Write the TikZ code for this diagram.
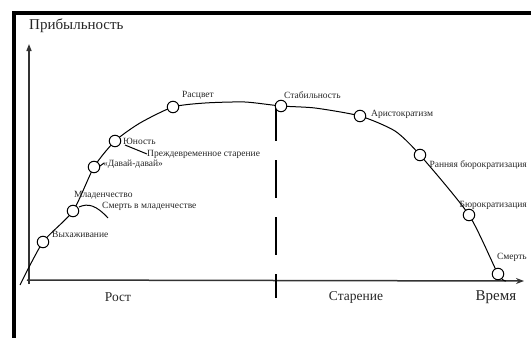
\documentclass[tikz,border=0pt]{standalone}
\usepackage{fontspec}
\setmainfont{Liberation Serif}
\usetikzlibrary{arrows.meta}
\tikzset{
  pt/.style={circle,draw=black,fill=white,line width=1pt,minimum size=11.5pt,inner sep=0pt},
  lbl/.style={font=\fontsize{9.5}{10}\selectfont,inner sep=0pt,text=black!85},
  big/.style={font=\fontsize{13.5}{14}\selectfont,inner sep=0pt,text=black!85},
  curve/.style={line width=1pt},
  axis/.style={line width=1.5pt,black!80},
  frameline/.style={line width=4pt,black}
}
\begin{document}
\begin{tikzpicture}[x=1pt,y=-1pt]
\useasboundingbox (0,0) rectangle (531,338);
% frame (top and left)
\draw[frameline] (12,13) -- (531,13);
\draw[frameline] (13.5,11) -- (13.5,338);
% axes
\coordinate (o) at (29,284);
\coordinate (ytip) at (29,44);
\coordinate (xo) at (27,280);
\coordinate (xtip) at (524,281);
\draw[axis,-{Triangle[length=7pt,width=5pt]}] (o) -- (ytip);
\draw[axis,-{Stealth[length=8pt,width=6pt]}] (xo) -- (xtip);
% divider
\coordinate (dtop) at (276,103);
\coordinate (dbot) at (276,298);
\draw[line width=1.1pt,dash pattern=on 38pt off 19pt] (dtop) -- (dbot);
% curve points
\coordinate (s) at (20,285);
\coordinate (c1) at (43,242);
\coordinate (c2) at (73,211);
\coordinate (c3) at (94,167);
\coordinate (c4) at (115,141);
\coordinate (m1) at (140,123);
\coordinate (c5) at (173,107);
\coordinate (m2) at (205,103);
\coordinate (m3) at (245,102);
\coordinate (c6) at (281,106);
\coordinate (m4) at (315,108);
\coordinate (c7) at (360,116);
\coordinate (m5) at (395,131);
\coordinate (c8) at (420,155);
\coordinate (c9) at (469,215);
\coordinate (c10) at (498,274);
\coordinate (e) at (506,281);
\draw[curve] plot[smooth,tension=0.4] coordinates {(s) (c1) (c2) (c3) (c4) (m1) (c5) (m2) (m3) (c6) (m4) (c7) (m5) (c8) (c9) (c10) (e)};
% side connectors
\coordinate (w0) at (79,207);
\coordinate (w1) at (88,203);
\coordinate (w2) at (108,218);
\draw[curve] (w0) .. controls (w1) and (96,205) .. (w2);
\coordinate (d1) at (100,166);
\coordinate (d2) at (104,163);
\draw[curve] (d1) -- (d2);
\coordinate (y1) at (125,145);
\coordinate (y2) at (147,154);
\draw[curve] (y1) -- (y2);
% circles
\node[pt] (n1) at (c1) {};
\node[pt] (n2) at (c2) {};
\node[pt] (n3) at (c3) {};
\node[pt] (n4) at (c4) {};
\node[pt] (n5) at (c5) {};
\node[pt] (n6) at (c6) {};
\node[pt] (n7) at (c7) {};
\node[pt] (n8) at (c8) {};
\node[pt] (n9) at (c9) {};
\node[pt] (n10) at (c10) {};
% labels
\node[lbl,anchor=west] (t1) at (52,234) {Выхаживание};
\node[lbl,anchor=west] (t2) at (74,195) {Младенчество};
\node[lbl,anchor=west] (t2b) at (102,206) {Смерть в младенчестве};
\node[lbl,anchor=west] (t3) at (103,164) {«Давай-давай»};
\node[lbl,anchor=west] (t4) at (123,141) {Юность};
\node[lbl,anchor=west] (t4b) at (147,154) {Преждевременное старение};
\node[lbl,anchor=west] (t5) at (182,95) {Расцвет};
\node[lbl,anchor=west] (t6) at (284,95) {Стабильность};
\node[lbl,anchor=west] (t7) at (371,114) {Аристократизм};
\node[lbl,anchor=east] (t8) at (527,165) {Ранняя бюрократизация};
\node[lbl,anchor=east] (t9) at (527,205) {Бюрократизация};
\node[lbl,anchor=east] (t10) at (527,257) {Смерть};
\node[font=\fontsize{15}{16}\selectfont,inner sep=0pt,anchor=west,text=black!85] (ty) at (29,26) {Прибыльность};
\node[big] (r1) at (118,297) {Рост};
\node[big] (r2) at (356,297) {Старение};
\node[font=\fontsize{15}{16}\selectfont,inner sep=0pt,text=black!85] (tx) at (496,297) {Время};
\end{tikzpicture}
\end{document}
